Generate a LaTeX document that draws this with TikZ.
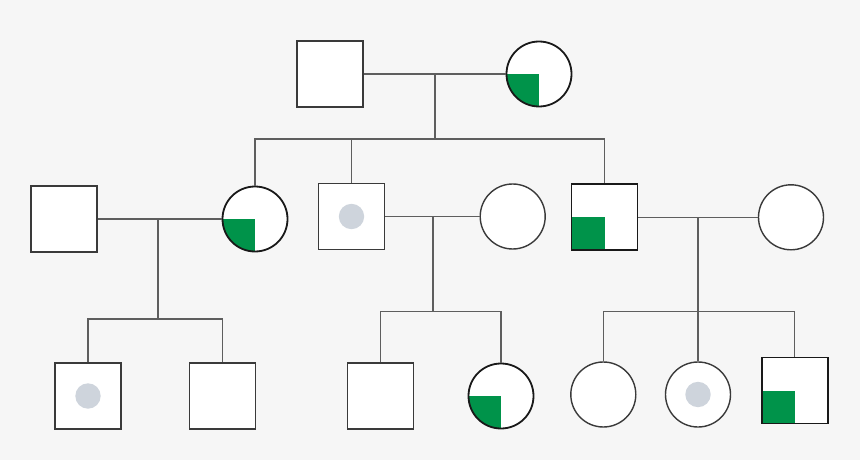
\documentclass[tikz,border=0pt]{standalone}
\begin{document}
\begin{tikzpicture}[x=1pt,y=-1pt,
  line/.style={draw=lineg,line width=1.1pt},
  male/.style={rectangle,draw=outl,line width=1.4pt,fill=white,minimum size=66pt,inner sep=0pt},
  female/.style={circle,draw=outl,line width=1.4pt,fill=white,minimum size=65pt,inner sep=0pt},
  affected/.style={line width=1.8pt,draw=black!90,path picture={\fill[affg] (path picture bounding box.center) rectangle (path picture bounding box.south west);}},
  carrier/.style={path picture={\fill[dotg] (path picture bounding box.center) circle (12.7pt);}}
]
\definecolor{bgc}{HTML}{F6F6F6}
\definecolor{lineg}{HTML}{5E5E5E}
\definecolor{outl}{HTML}{3A3A3A}
\definecolor{affg}{HTML}{00934A}
\definecolor{dotg}{HTML}{CED4DC}
\fill[bgc] (0,0) rectangle (860,460);
\useasboundingbox (0,0) rectangle (860,460);
% generation 1
\node[male] (g1m) at (330,74) {};
\node[female,affected] (g1f) at (539,74) {};
% generation 2
\node[male] (g2a) at (64,219) {};
\node[female,affected] (g2b) at (255,219) {};
\node[male,carrier] (g2c) at (351.5,216.5) {};
\node[female] (g2d) at (512.7,216.5) {};
\node[male,affected] (g2e) at (604.5,217.3) {};
\node[female] (g2f) at (791,217.3) {};
% generation 3
\node[male,carrier] (g3a) at (88,396) {};
\node[male] (g3b) at (222.5,396) {};
\node[male] (g3c) at (380.7,396) {};
\node[female,affected] (g3d) at (501,396) {};
\node[female] (g3e) at (603.3,394.5) {};
\node[female,carrier] (g3f) at (698,394.5) {};
\node[male,affected] (g3g) at (794.7,390.5) {};
% coordinates
\coordinate (m1) at (435,74);
\coordinate (s1) at (435,139);
\coordinate (m2) at (158,219);
\coordinate (s2) at (158,319);
\coordinate (m3) at (433,216.5);
\coordinate (s3) at (433,311.5);
\coordinate (m4) at (698,217.3);
\coordinate (s4) at (698,311.5);
\begin{scope}[on background layer/.style={}]
% marriages
\draw[line] (g1m.east) -- (g1f.west);
\draw[line] (g2a.east) -- (g2b.west);
\draw[line] (g2c.east) -- (g2d.west);
\draw[line] (g2e.east) -- (g2f.west);
% descent
\draw[line] (m1) -- (s1);
\draw[line] (g2b.north) |- (s1) -| (g2e.north);
\draw[line] (g2c.north) -- (g2c.north |- s1);
\draw[line] (m2) -- (s2);
\draw[line] (g3a.north) |- (s2) -| (g3b.north);
\draw[line] (m3) -- (s3);
\draw[line] (g3c.north) |- (s3) -| (g3d.north);
\draw[line] (m4) -- (g3f.north);
\draw[line] (g3e.north) |- (s4) -| (g3g.north);
\end{scope}
\end{tikzpicture}
\end{document}
